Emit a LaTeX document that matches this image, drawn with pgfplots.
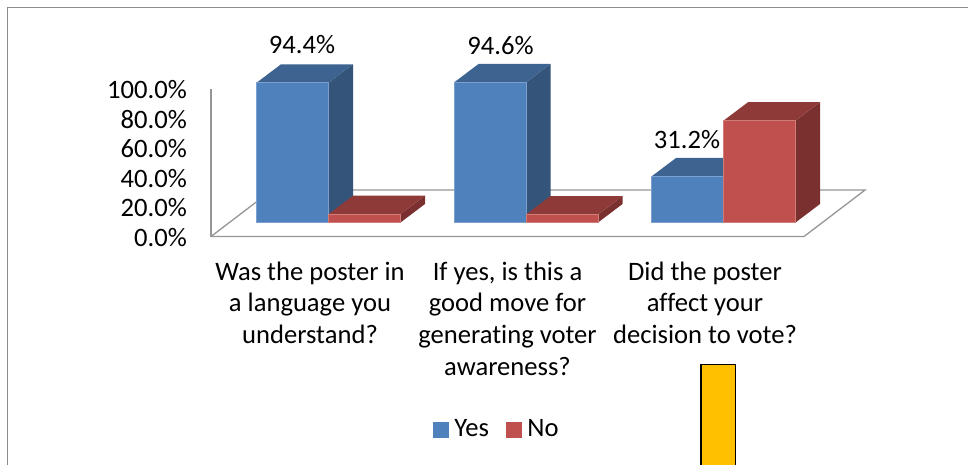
\documentclass[border=0pt]{standalone}
\usepackage{fontspec}
\setmainfont{Carlito}[Ligatures=NoCommon]
\newfontfamily\tickfam{Carlito}
\usepackage{pgfplots}
\pgfplotsset{compat=1.18}
\definecolor{bfront}{RGB}{79,129,189}
\definecolor{btop}{RGB}{61,99,145}
\definecolor{bside}{RGB}{52,84,122}
\definecolor{rfront}{RGB}{192,80,77}
\definecolor{rtop}{RGB}{142,58,56}
\definecolor{rside}{RGB}{122,48,46}
\definecolor{axgray}{RGB}{150,150,150}
\definecolor{framegray}{RGB}{140,140,140}
\definecolor{orangebar}{RGB}{255,192,0}
\newcommand{\bigfont}{\tickfam\fontsize{26.6}{31.7}\selectfont}
\newcommand{\catfont}{\fontsize{26.6}{31.7}\selectfont}
% x0 = left edge of front face (px), #2 = value, #3 front, #4 top, #5 side
\newcommand{\threedbar}[5]{%
  \pgfmathsetmacro{\xa}{#1}%
  \pgfmathsetmacro{\xb}{#1+72}%
  \pgfmathsetmacro{\xc}{#1+24.5}%
  \pgfmathsetmacro{\xd}{#1+96.5}%
  \pgfmathsetmacro{\ya}{9.46}%
  \pgfmathsetmacro{\yb}{9.46+#2}%
  \pgfmathsetmacro{\yc}{9.46+12.5}%
  \pgfmathsetmacro{\yd}{9.46+12.5+#2}%
  \edef\temp{\noexpand\addplot[forget plot,fill=#5,draw=none] coordinates {(\xb,\ya)(\xd,\yc)(\xd,\yd)(\xb,\yb)} --cycle;
    \noexpand\addplot[forget plot,fill=#4,draw=none] coordinates {(\xa,\yb)(\xc,\yd)(\xd,\yd)(\xb,\yb)} --cycle;
    \noexpand\addplot[forget plot,fill=#3,draw=#3!75!white,line width=0.6pt] coordinates {(\xa,\ya)(\xb,\ya)(\xb,\yb)(\xa,\yb)} --cycle;}%
  \temp
}
\begin{document}
\begin{tikzpicture}[x=1pt,y=1pt]
\useasboundingbox (0,0) rectangle (968,-464);
\clip (0,0) rectangle (968,-464);
\fill[white] (0,0) rectangle (968,-464);
\draw[framegray,line width=1.5pt] (7.7,-470) -- (7.7,-7.7) -- (975,-7.7);
\begin{axis}[
  at={(211pt,-236.5pt)},anchor=south west,
  scale only axis,width=654pt,height=148pt,
  xmin=211,xmax=865,ymin=0,ymax=100,
  clip=false,
  axis x line=bottom,axis y line=left,
  x axis line style={draw=none,-},
  y axis line style={draw=axgray,line width=1.3pt,-},
  major tick length=0pt,
  xtick={310,507.5,705},
  xticklabels={{Was the poster in\\a language you\\understand?},{If yes, is this a\\good move for\\generating voter\\awareness?},{Did the poster\\affect your\\decision to vote?}},
  xticklabel style={align=center,font=\catfont,inner sep=0pt,yshift=-25pt,anchor=north},
  ytick={0,20,40,60,80,100},
  yticklabels={0.0\%,20.0\%,40.0\%,60.0\%,80.0\%,100.0\%},
  yticklabel style={font=\bigfont,inner sep=0pt,xshift=-24pt,yshift=-1pt,anchor=east},
  legend columns=2,
  legend cell align=left,
  legend style={draw=none,fill=none,font=\bigfont,at={(0.437,-1.302)},anchor=center,inner sep=0pt,
    /tikz/every even column/.append style={column sep=15pt},
    /tikz/every odd column/.append style={column sep=4pt}},
]
\addlegendimage{legend image code/.code={\fill[bfront] (0pt,-7.5pt) rectangle (15pt,7.5pt);}}
\addlegendimage{legend image code/.code={\fill[rfront] (0pt,-7.5pt) rectangle (15pt,7.5pt);}}
\legend{Yes,No}
% floor
\addplot[forget plot,draw=axgray,line width=1.3pt] coordinates {(211,0)(804,0)(865,31.4)(272,31.4)(211,0)};
% Yes / No: 94.4 / 5.6, 94.6 / 5.4, 31.2 / 68.8
\threedbar{256.5}{94.4}{bfront}{btop}{bside}
\threedbar{328.5}{5.6}{rfront}{rtop}{rside}
\threedbar{454}{94.6}{bfront}{btop}{bside}
\threedbar{526}{5.4}{rfront}{rtop}{rside}
\threedbar{651.7}{31.2}{bfront}{btop}{bside}
\threedbar{723.5}{68.8}{rfront}{rtop}{rside}
\node[font=\bigfont,inner sep=0pt] at (axis cs:302,129.5) {94.4\%};
\node[font=\bigfont,inner sep=0pt] at (axis cs:500.5,129) {94.6\%};
\node[font=\bigfont,inner sep=0pt] at (axis cs:687,65.5) {31.2\%};
\end{axis}
\draw[black,line width=1.5pt,fill=orangebar] (701,-364.5) rectangle (735.5,-480);
\end{tikzpicture}
\end{document}
